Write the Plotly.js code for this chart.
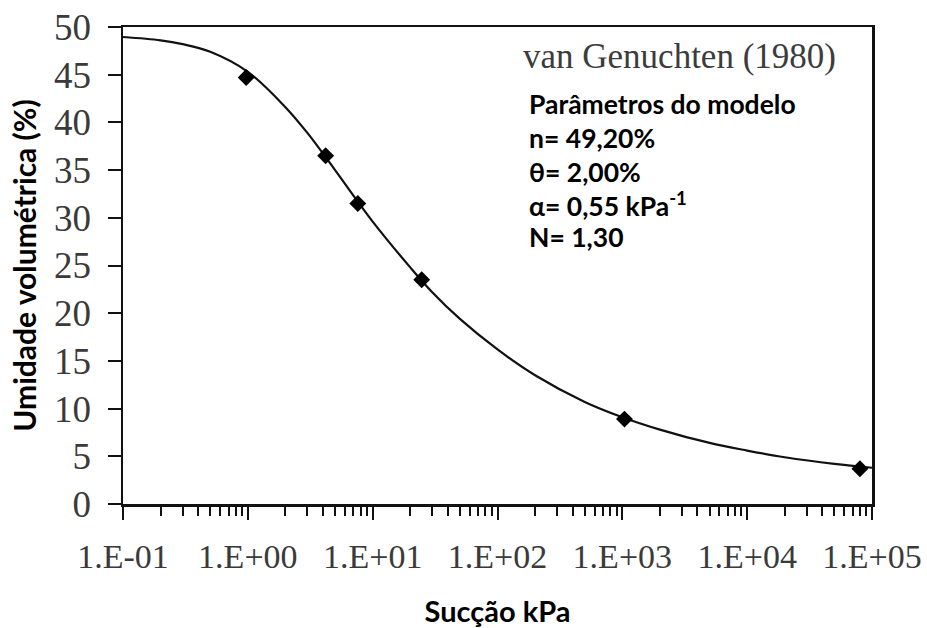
<!DOCTYPE html>
<html>
<head>
<meta charset="utf-8">
<script src="https://cdn.plot.ly/plotly-3.0.1.min.js"></script>
<style>html,body{margin:0;padding:0;background:#fff;}#chart{width:927px;height:628px;}</style>
</head>
<body>
<div id="chart"></div>
<script>
// Measured points (suction kPa, volumetric moisture %)
const suctionPts = [0.97, 4.2, 7.6, 24.7, 1040, 80000];
const moisturePts = [44.7, 36.5, 31.5, 23.5, 8.9, 3.7];

// Fitted van Genuchten curve
const curveSuction = [0.1, 0.2, 0.3, 0.5, 1, 2, 3, 5, 7.6, 10, 20, 30, 50, 100, 200, 500, 1000, 2000, 5000, 10000, 20000, 50000, 100000];
const curveMoisture = [48.95, 48.6, 48.2, 47.4, 45.3, 41.6, 38.9, 35.0, 31.7, 29.6, 24.8, 22.2, 19.4, 16.2, 13.5, 10.7, 9.1, 7.8, 6.4, 5.6, 4.9, 4.2, 3.8];

// Axis ticks
const xTickVals = [0.1, 1, 10, 100, 1000, 10000, 100000];
const xTickText = ['1.E-01', '1.E+00', '1.E+01', '1.E+02', '1.E+03', '1.E+04', '1.E+05'];
const yTickVals = [0, 5, 10, 15, 20, 25, 30, 35, 40, 45, 50];

const modelTitle = 'van Genuchten (1980)';
const paramLines = ['Parâmetros do modelo', 'n= 49,20%', 'θ= 2,00%', 'α= 0,55 kPa<sup>-1</sup>', 'N= 1,30'];

const minorVals = [];
for (let d = 0.1; d < 100000; d *= 10) {
  for (let k = 2; k <= 9; k++) minorVals.push(+(d * k).toPrecision(3));
}

const serif = 'Liberation Serif, Times New Roman, serif';
const sans = 'Lato, Open Sans, sans-serif';

const traces = [
  {
    x: curveSuction, y: curveMoisture, type: 'scatter', mode: 'lines',
    line: {color: '#111', width: 2.2, shape: 'spline', smoothing: 1},
    showlegend: false, hoverinfo: 'skip'
  },
  {
    x: suctionPts, y: moisturePts, type: 'scatter', mode: 'markers',
    marker: {symbol: 'diamond', size: 13, color: '#000'},
    showlegend: false
  }
];

const annotations = [
  {
    xref: 'paper', yref: 'paper', x: (521 - 123) / 749, y: (504 - 57) / 477,
    xanchor: 'left', yanchor: 'middle', showarrow: false,
    text: modelTitle, font: {family: serif, size: 35, color: '#3c3c3c'}
  }
];
const lineY = [104, 138, 172, 205, 237];
paramLines.forEach((t, i) => {
  annotations.push({
    xref: 'paper', yref: 'paper', x: (527 - 123) / 749, y: (504 - lineY[i]) / 477,
    xanchor: 'left', yanchor: 'middle', showarrow: false,
    text: t, font: {family: sans, size: 26.5, color: '#000', weight: 'bold'}
  });
});

const layout = {
  width: 927, height: 628,
  margin: {l: 123, r: 55, t: 27, b: 124, pad: 0},
  paper_bgcolor: '#fff', plot_bgcolor: '#fff',
  showlegend: false,
  xaxis: {
    type: 'log', range: [-1, 5],
    tickmode: 'array', tickvals: xTickVals, ticktext: xTickText,
    ticks: 'outside', ticklen: 13, tickwidth: 2, tickcolor: '#111',
    ticklabelstandoff: 8,
    minor: {tickmode: 'array', tickvals: minorVals, ticks: 'outside', ticklen: 9, tickwidth: 2, tickcolor: '#111', showgrid: false},
    showline: true, linewidth: 2.5, linecolor: '#111', mirror: true,
    showgrid: false, zeroline: false,
    tickfont: {family: serif, size: 34, color: '#3a3a3a'},
    title: {text: 'Sucção kPa', font: {family: sans, size: 29, color: '#000', weight: 'bold'}, standoff: 29}
  },
  yaxis: {
    range: [0, 50], tickmode: 'array', tickvals: yTickVals,
    ticks: 'outside', ticklen: 13, tickwidth: 2, tickcolor: '#111',
    ticklabelstandoff: 9,
    showline: true, linewidth: 2.5, linecolor: '#111', mirror: true,
    showgrid: false, zeroline: false,
    tickfont: {family: serif, size: 37, color: '#3a3a3a'},
    title: {text: 'Umidade volumétrica (%)', font: {family: sans, size: 30, color: '#000', weight: 'bold'}, standoff: 9}
  },
  annotations: annotations
};

Plotly.newPlot('chart', traces, layout, {displayModeBar: false, staticPlot: true});
</script>
</body>
</html>
